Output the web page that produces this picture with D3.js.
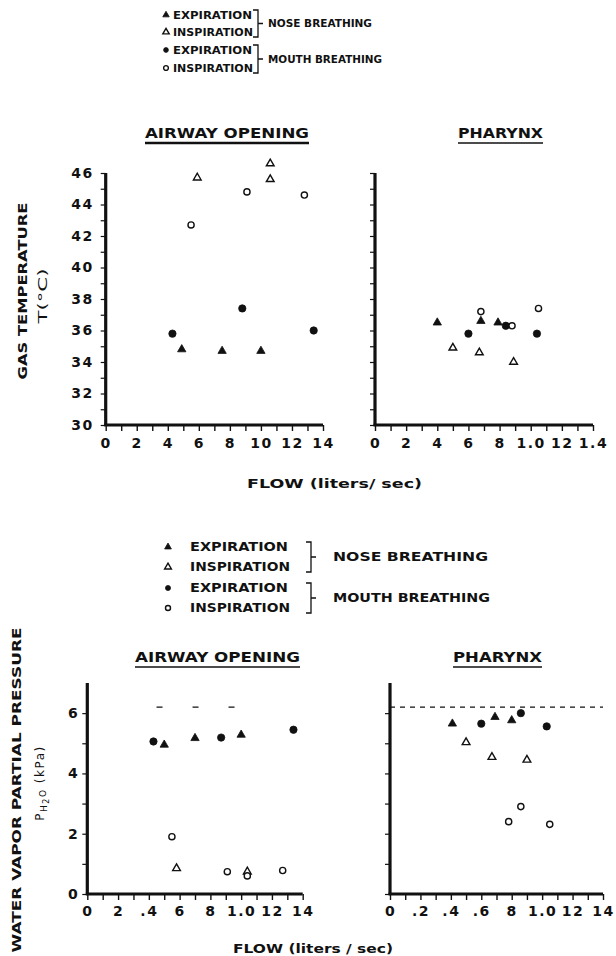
<!DOCTYPE html>
<html>
<head>
<meta charset="utf-8">
<script src="https://cdn.jsdelivr.net/npm/d3@7"></script>
<style>
  html, body { margin: 0; padding: 0; background: #fff; }
  svg { display: block; }
  text { font-family: "DejaVu Sans", "Liberation Sans", sans-serif; fill: #111; }
</style>
</head>
<body>
<svg id="chart" width="616" height="956"></svg>
<script>
// ---------------- DATA ----------------
const flowLabelTicks = [0, 0.2, 0.4, 0.6, 0.8, 1.0, 1.2, 1.4];
const flowMinorTicks = [0, 0.1, 0.2, 0.3, 0.4, 0.5, 0.6, 0.7, 0.8, 0.9, 1.0, 1.1, 1.2, 1.3, 1.4];
const xLabelsTempAirway   = ["0", "2", "4", "6", "8", "10", "12", "14"];
const xLabelsTempPharynx  = ["0", "2", "4", "6", "8", "1.0", "12", "1.4"];
const xLabelsPressAirway  = ["0", "2", ".4", "6", "8", "1.0", "12", "14"];
const xLabelsPressPharynx = ["0", ".2", ".4", ".6", "8", "1.0", "12", "14"];

const tempLabelTicks = [30, 32, 34, 36, 38, 40, 42, 44, 46];
const tempMinorTicks = [30, 31, 32, 33, 34, 35, 36, 37, 38, 39, 40, 41, 42, 43, 44, 45, 46];
const pressLabelTicks = [0, 2, 4, 6];
const pressMinorTicks = [0, 1, 2, 3, 4, 5, 6];

const legendRows = ["EXPIRATION", "INSPIRATION", "EXPIRATION", "INSPIRATION"];
const legendGroups = ["NOSE BREATHING", "MOUTH BREATHING"];
const panelTitles = ["AIRWAY OPENING", "PHARYNX"];

// [flow (l/s), value]
// Gas temperature (°C), airway opening
const tAirwayNoseExp   = [[0.49, 34.8], [0.75, 34.7], [1.00, 34.7]];
const tAirwayNoseInsp  = [[0.59, 45.7], [1.06, 46.6], [1.06, 45.6]];
const tAirwayMouthExp  = [[0.43, 35.8], [0.88, 37.4], [1.34, 36.0]];
const tAirwayMouthInsp = [[0.55, 42.7], [0.91, 44.8], [1.28, 44.6]];
// Gas temperature (°C), pharynx
const tPharynxNoseExp   = [[0.40, 36.5], [0.68, 36.6], [0.79, 36.5]];
const tPharynxNoseInsp  = [[0.50, 34.9], [0.67, 34.6], [0.89, 34.0]];
const tPharynxMouthExp  = [[0.60, 35.8], [0.84, 36.3], [1.04, 35.8]];
const tPharynxMouthInsp = [[0.68, 37.2], [0.88, 36.3], [1.05, 37.4]];
// Water vapour partial pressure (kPa), airway opening
const pAirwayNoseExp   = [[0.50, 4.95], [0.70, 5.17], [1.00, 5.28]];
const pAirwayNoseInsp  = [[0.58, 0.85], [1.04, 0.74]];
const pAirwayMouthExp  = [[0.43, 5.06], [0.87, 5.19], [1.34, 5.45]];
const pAirwayMouthInsp = [[0.55, 1.90], [0.91, 0.74], [1.04, 0.60], [1.27, 0.78]];
// Water vapour partial pressure (kPa), pharynx
const pPharynxNoseExp   = [[0.41, 5.65], [0.69, 5.87], [0.80, 5.76]];
const pPharynxNoseInsp  = [[0.50, 5.03], [0.67, 4.54], [0.90, 4.45]];
const pPharynxMouthExp  = [[0.60, 5.65], [0.86, 6.00], [1.03, 5.56]];
const pPharynxMouthInsp = [[0.78, 2.40], [0.86, 2.90], [1.05, 2.31]];

const saturationPressure = 6.2;
const saturationAirwaySpan = [0.45, 1.15];

// ---------------- DRAWING ----------------
const svg = d3.select("#chart");
const INK = "#111";

function symbolPath(kind, size) {
  const t = (kind === "nE" || kind === "nI") ? d3.symbolTriangle : d3.symbolCircle;
  return d3.symbol().type(t).size(size)();
}
function styleMarker(sel, kind) {
  const filled = (kind === "nE" || kind === "mE");
  sel.attr("fill", filled ? INK : "#fff")
     .attr("stroke", INK)
     .attr("stroke-width", filled ? 0.8 : 1.4);
}

function text(g, str, x, y, opts) {
  const o = Object.assign({size: 12, anchor: "start", weight: "normal", len: null, rotate: false, spacing: 0}, opts || {});
  const t = g.append("text")
    .attr("font-size", o.size)
    .attr("font-weight", o.weight)
    .attr("text-anchor", o.anchor)
    .attr("dominant-baseline", "central")
    .attr("letter-spacing", o.spacing)
    .text(str);
  if (o.len) t.attr("textLength", o.len).attr("lengthAdjust", "spacingAndGlyphs");
  if (o.rotate) t.attr("transform", `translate(${x},${y}) rotate(-90)`);
  else t.attr("x", x).attr("y", y);
  return t;
}

function legend(mx, tx, rows, brX, groupX, textLen, groupLens, size, markSize) {
  const g = svg.append("g");
  const kinds = ["nE", "nI", "mE", "mI"];
  rows.forEach((yy, i) => {
    g.append("path").attr("d", symbolPath(kinds[i], markSize))
      .attr("transform", `translate(${mx},${yy})`).call(styleMarker, kinds[i]);
    text(g, legendRows[i], tx, yy, {size: size, weight: "bold", len: textLen[i]});
  });
  [[rows[0], rows[1]], [rows[2], rows[3]]].forEach((pair, k) => {
    const y0 = pair[0] - 5, y1 = pair[1] + 5, ym = (y0 + y1) / 2;
    g.append("path")
      .attr("d", `M${brX - 5},${y0} H${brX} V${y1} H${brX - 5} M${brX},${ym} H${brX + 5}`)
      .attr("fill", "none").attr("stroke", INK).attr("stroke-width", 1.3);
    text(g, legendGroups[k], groupX, ym, {size: size, weight: "bold", len: groupLens[k]});
  });
}

function panel(cfg) {
  const g = svg.append("g");
  const x = d3.scaleLinear().domain([0, 1.4]).range(cfg.xr);
  const y = d3.scaleLinear().domain(cfg.yd).range(cfg.yr);

  // minor ticks
  g.append("g").attr("transform", `translate(0,${cfg.yr[0]})`)
    .call(d3.axisBottom(x).tickValues(flowMinorTicks).tickSize(6).tickFormat(""))
    .call(a => a.select(".domain").remove())
    .call(a => a.selectAll("line").attr("stroke", INK).attr("stroke-width", 1.4));
  g.append("g").attr("transform", `translate(${cfg.xr[0]},0)`)
    .call(d3.axisLeft(y).tickValues(cfg.yMinor).tickSize(5).tickFormat(""))
    .call(a => a.select(".domain").remove())
    .call(a => a.selectAll("line").attr("stroke", INK).attr("stroke-width", 1.2));

  // x labels
  g.append("g").attr("transform", `translate(0,${cfg.yr[0]})`)
    .call(d3.axisBottom(x).tickValues(flowLabelTicks).tickSize(0).tickPadding(cfg.xPad)
      .tickFormat((d, i) => cfg.xLabels[i]))
    .call(a => a.select(".domain").remove())
    .call(a => a.selectAll("text").attr("font-size", 14).attr("font-weight", "bold")
      .attr("letter-spacing", 1.5).attr("fill", INK)
      .attr("font-family", "'DejaVu Sans', sans-serif"));

  if (cfg.yLabels) {
    g.append("g").attr("transform", `translate(${cfg.xr[0]},0)`)
      .call(d3.axisLeft(y).tickValues(cfg.yLabelTicks).tickSize(0).tickPadding(cfg.yPad)
        .tickFormat(d3.format("d")))
      .call(a => a.select(".domain").remove())
      .call(a => a.selectAll("text").attr("font-size", 14).attr("font-weight", "bold")
        .attr("letter-spacing", 1.5).attr("fill", INK)
        .attr("font-family", "'DejaVu Sans', sans-serif"));
  }

  // thick axis lines
  g.append("line").attr("x1", x(0)).attr("x2", x(0))
    .attr("y1", y(cfg.yd[0])).attr("y2", y(cfg.yd[1]))
    .attr("stroke", INK).attr("stroke-width", 3.2);
  g.append("line").attr("x1", x(0) - 1.5).attr("x2", x(1.4))
    .attr("y1", y(cfg.yd[0])).attr("y2", y(cfg.yd[0]))
    .attr("stroke", INK).attr("stroke-width", 3.2);

  // saturation line
  if (cfg.sat) {
    const span = cfg.satSpan || [0, 1.4];
    g.append("line").attr("x1", x(span[0])).attr("x2", x(span[1]))
      .attr("y1", y(saturationPressure)).attr("y2", y(saturationPressure))
      .attr("stroke", INK).attr("stroke-width", 1.3)
      .attr("stroke-dasharray", cfg.satDash);
  }

  // points
  cfg.series.forEach(s => {
    g.selectAll(null).data(s.data).enter().append("path")
      .attr("d", symbolPath(s.kind, s.kind[1] === "E" ? (s.kind[0] === "m" ? 42 : 30) : (s.kind[0] === "m" ? 30 : 26)))
      .attr("transform", d => `translate(${x(d[0])},${y(d[1])})`)
      .call(styleMarker, s.kind);
  });

  // title
  text(g, cfg.title, cfg.titleX, cfg.titleY, {size: 14, weight: "bold", len: cfg.titleLen});
  g.append("line").attr("x1", cfg.titleX).attr("x2", cfg.titleX + cfg.titleLen)
    .attr("y1", cfg.titleY + 10).attr("y2", cfg.titleY + 10)
    .attr("stroke", INK).attr("stroke-width", cfg.ulw);
}

// Legends
legend(166, 173, [15, 32, 50, 68], 258, 268, [79, 80, 79, 80], [104, 114], 11, 18);
legend(168, 190, [547, 567, 588, 608], 311, 333, [98, 100, 98, 100], [155, 157], 12, 20);

// Top panels: gas temperature
panel({xr: [105.7, 323], yd: [30, 46], yr: [425, 173], yMinor: tempMinorTicks,
  yLabels: true, yLabelTicks: tempLabelTicks, yPad: 12, xPad: 13,
  xLabels: xLabelsTempAirway, title: panelTitles[0], titleX: 145, titleY: 133, titleLen: 164, ulw: 2.4,
  series: [{kind: "nE", data: tAirwayNoseExp}, {kind: "nI", data: tAirwayNoseInsp},
           {kind: "mE", data: tAirwayMouthExp}, {kind: "mI", data: tAirwayMouthInsp}]});
panel({xr: [375, 593], yd: [30, 46], yr: [425, 173], yMinor: tempMinorTicks,
  yLabels: false, xPad: 13,
  xLabels: xLabelsTempPharynx, title: panelTitles[1], titleX: 458, titleY: 133, titleLen: 85, ulw: 1.5,
  series: [{kind: "nE", data: tPharynxNoseExp}, {kind: "nI", data: tPharynxNoseInsp},
           {kind: "mE", data: tPharynxMouthExp}, {kind: "mI", data: tPharynxMouthInsp}]});

// Bottom panels: water vapour partial pressure
panel({xr: [87.3, 302.7], yd: [0, 7], yr: [894, 683], yMinor: pressMinorTicks,
  yLabels: true, yLabelTicks: pressLabelTicks, yPad: 8, xPad: 12,
  xLabels: xLabelsPressAirway, title: panelTitles[0], titleX: 135, titleY: 657, titleLen: 165, ulw: 1.5,
  sat: true, satSpan: saturationAirwaySpan, satDash: "6,30",
  series: [{kind: "nE", data: pAirwayNoseExp}, {kind: "nI", data: pAirwayNoseInsp},
           {kind: "mE", data: pAirwayMouthExp}, {kind: "mI", data: pAirwayMouthInsp}]});
panel({xr: [390, 603], yd: [0, 7], yr: [894, 683], yMinor: pressMinorTicks,
  yLabels: false, xPad: 12,
  xLabels: xLabelsPressPharynx, title: panelTitles[1], titleX: 453, titleY: 657, titleLen: 89, ulw: 1.5,
  sat: true, satDash: "5,5",
  series: [{kind: "nE", data: pPharynxNoseExp}, {kind: "nI", data: pPharynxNoseInsp},
           {kind: "mE", data: pPharynxMouthExp}, {kind: "mI", data: pPharynxMouthInsp}]});

// Axis titles
const at = svg.append("g");
text(at, "FLOW (liters/ sec)", 247, 483, {size: 13, weight: "bold", len: 175});
text(at, "FLOW (liters / sec)", 233, 948, {size: 13, weight: "bold", len: 160});
text(at, "GAS TEMPERATURE", 22, 291, {size: 13, weight: "bold", anchor: "middle", rotate: true, len: 177});
text(at, "T(°C)", 42, 296, {size: 13, anchor: "middle", rotate: true, len: 55});
text(at, "WATER VAPOR PARTIAL PRESSURE", 16, 790, {size: 13, weight: "bold", anchor: "middle", rotate: true, len: 325});

// P_H2O (kPa) with subscripts
const ph = at.append("text")
  .attr("transform", "translate(40,783) rotate(-90)")
  .attr("text-anchor", "middle").attr("dominant-baseline", "central")
  .attr("font-size", 12).attr("letter-spacing", 1.5);
ph.append("tspan").text("P");
ph.append("tspan").attr("font-size", 9).attr("dy", 4).text("H");
ph.append("tspan").attr("font-size", 8).attr("dy", 2).text("2");
ph.append("tspan").attr("font-size", 9).attr("dy", -3).text("O");
ph.append("tspan").attr("dy", -3).text("  (kPa)");
</script>
</body>
</html>
